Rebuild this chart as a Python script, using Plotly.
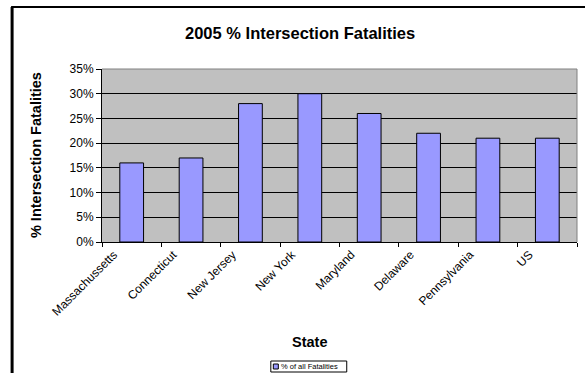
import plotly.graph_objects as go

states = ["Massachussetts", "Connecticut", "New Jersey", "New York",
          "Maryland", "Delaware", "Pennsylvania", "US"]
pct_values = [0.16, 0.17, 0.28, 0.30, 0.26, 0.22, 0.21, 0.21]
y_ticks = [0, 0.05, 0.10, 0.15, 0.20, 0.25, 0.30, 0.35]
series_name = "% of all Fatalities"

W, H = 585, 373
L, R, T, B = 102, 577.5, 69, 242
pw, ph = R - L, B - T

def px_x(x):
    return (x - L) / pw

def px_y(y):
    return (B - y) / ph

fig = go.Figure()
fig.add_trace(go.Bar(
    x=states, y=pct_values, name=series_name,
    marker=dict(color="#9999FF", line=dict(color="black", width=1)),
    width=0.4, showlegend=False,
))

font = "Liberation Sans, Arial, sans-serif"
fig.update_layout(
    width=W, height=H,
    margin=dict(l=L, r=W - R, t=T, b=H - B, autoexpand=False),
    paper_bgcolor="white", plot_bgcolor="#C0C0C0",
    font=dict(family=font, color="black", size=12),
    bargap=0.6,
    showlegend=False,
    xaxis=dict(tickangle=-45, showline=True, linecolor="black", linewidth=1,
               ticks="outside", ticklen=4, tickcolor="black",
               tickson="boundaries", mirror=False, automargin=False,
               ticklabelshift=-18,
               tickfont=dict(size=12, family=font)),
    yaxis=dict(range=[0, 0.35], tickvals=y_ticks, tickformat=".0%",
               showgrid=True, gridcolor="black", gridwidth=1,
               showline=True, linecolor="black", linewidth=1,
               ticks="outside", ticklen=5, tickcolor="black", automargin=False,
               tickfont=dict(size=12, family=font), zeroline=False),
    annotations=[
        dict(text="<b>2005 % Intersection Fatalities</b>", x=px_x(300), y=px_y(33),
             xref="paper", yref="paper", showarrow=False, font=dict(size=16.5, family=font),
             xanchor="center", yanchor="middle"),
        dict(text="<b>% Intersection Fatalities</b>", x=px_x(36), y=px_y(155),
             xref="paper", yref="paper", showarrow=False, font=dict(size=14.5, family=font),
             textangle=-90, xanchor="center", yanchor="middle"),
        dict(text="<b>State</b>", x=px_x(310), y=px_y(342),
             xref="paper", yref="paper", showarrow=False, font=dict(size=14.5, family=font),
             xanchor="center", yanchor="middle"),
        dict(text=series_name, x=px_x(279), y=px_y(366.5),
             xref="paper", yref="paper", showarrow=False, font=dict(size=7.5, family=font),
             xanchor="left", yanchor="middle"),
    ],
    shapes=[
        dict(type="line", xref="paper", yref="paper", x0=px_x(12), x1=px_x(12),
             y0=px_y(7), y1=px_y(380), line=dict(color="black", width=3)),
        dict(type="line", xref="paper", yref="paper", x0=px_x(11), x1=px_x(600),
             y0=px_y(7), y1=px_y(7), line=dict(color="black", width=2)),
        dict(type="line", xref="paper", yref="paper", x0=1, x1=1,
             y0=0, y1=1, line=dict(color="#808080", width=1)),
        dict(type="line", xref="paper", yref="paper", x0=0, x1=1,
             y0=1, y1=1, line=dict(color="#808080", width=1)),
        # legend box
        dict(type="rect", xref="paper", yref="paper", x0=px_x(271), x1=px_x(347),
             y0=px_y(361), y1=px_y(372), line=dict(color="black", width=1),
             fillcolor="white"),
        dict(type="rect", xref="paper", yref="paper", x0=px_x(273.5), x1=px_x(278.5),
             y0=px_y(364), y1=px_y(369), line=dict(color="black", width=1),
             fillcolor="#9999FF"),
    ],
)

fig.write_html("out.html", config={"displayModeBar": False},
               post_script="document.body.style.margin='0';document.body.style.overflow='hidden';")
